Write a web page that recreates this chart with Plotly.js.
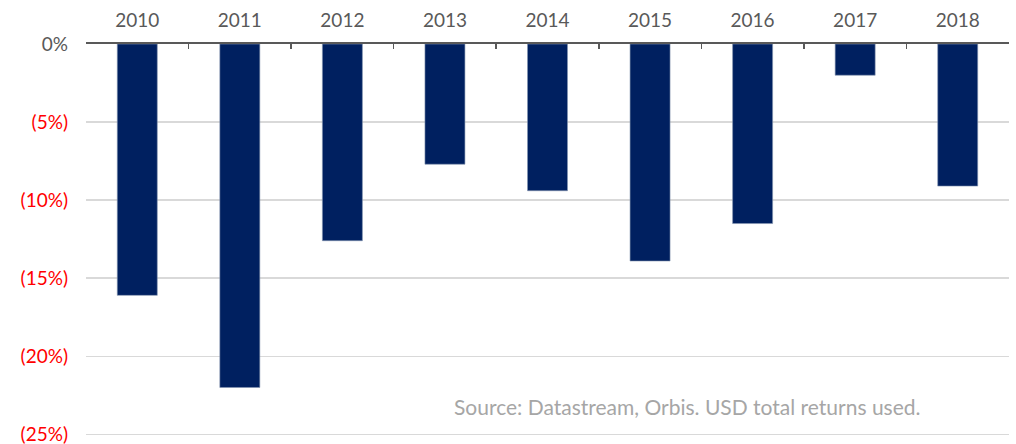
<!DOCTYPE html>
<html>
<head>
<meta charset="utf-8">
<script src="https://cdn.plot.ly/plotly-3.0.1.min.js"></script>
<style>
  html, body { margin: 0; padding: 0; background: #ffffff; }
  #chart { width: 1016px; height: 444px; }
</style>
</head>
<body>
<div id="chart"></div>
<script>
const years = ["2010", "2011", "2012", "2013", "2014", "2015", "2016", "2017", "2018"];
const returns = [-16.1, -22.0, -12.6, -7.7, -9.4, -13.9, -11.5, -2.0, -9.1];
const yTickVals = [0, -5, -10, -15, -20, -25];
const yTickLabels = ["0%", "(5%)", "(10%)", "(15%)", "(20%)", "(25%)"];
const sourceNote = "Source: Datastream, Orbis. USD total returns used.";

const tickText = yTickLabels.map((t, i) =>
  yTickVals[i] < 0 ? '<span style="color:#ff0000">' + t + '</span>' : t
);

const trace = {
  type: "bar",
  x: years,
  y: returns,
  marker: { color: "#002060", line: { color: "#8496b0", width: 0.6 } },
  hoverinfo: "x+y"
};

const layout = {
  width: 1016,
  height: 444,
  margin: { l: 86, r: 7, t: 43.5, b: 4.7 },
  paper_bgcolor: "#ffffff",
  plot_bgcolor: "#ffffff",
  bargap: 0.61,
  showlegend: false,
  font: { family: "Lato, 'Open Sans', sans-serif", color: "#595959", size: 19 },
  xaxis: {
    type: "category",
    side: "top",
    showline: true,
    linecolor: "#595959",
    linewidth: 2,
    ticks: "inside",
    tickson: "boundaries",
    ticklen: 5,
    tickwidth: 1.5,
    tickcolor: "#595959",
    showgrid: false,
    zeroline: false,
    ticklabelstandoff: 7,
    tickfont: { size: 19, color: "#595959" },
    automargin: false
  },
  yaxis: {
    range: [-25.3, 0],
    tickvals: yTickVals,
    ticktext: tickText,
    showgrid: true,
    gridcolor: "#d9d9d9",
    gridwidth: 1.5,
    zeroline: false,
    showline: false,
    ticks: "",
    ticklabelstandoff: 17,
    ticklabeloverflow: "allow",
    tickfont: { size: 19, color: "#595959" },
    automargin: false
  },
  annotations: [{
    text: sourceNote,
    xref: "paper", yref: "paper",
    x: 0.907, y: 0.083,
    xanchor: "right", yanchor: "middle",
    showarrow: false,
    font: { size: 21, color: "#a6a6a6" }
  }]
};

Plotly.newPlot("chart", [trace], layout, { displayModeBar: false, staticPlot: true });
</script>
</body>
</html>
